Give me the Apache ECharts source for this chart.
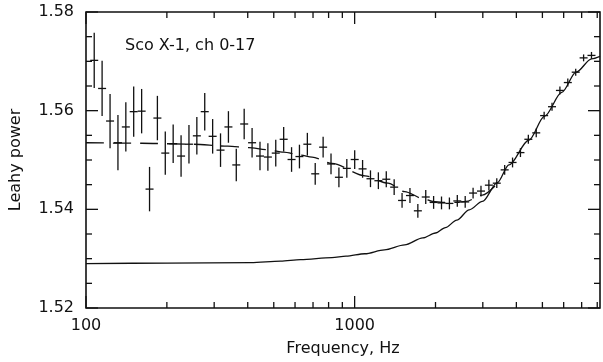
<!DOCTYPE html>
<html><head><meta charset="utf-8">
<script src="https://cdn.jsdelivr.net/npm/echarts@6/dist/echarts.min.js"></script>
<style>html,body{margin:0;padding:0;background:#fff}#c{width:603px;height:362px}</style>
</head><body><div id="c"></div>
<script>
// Data points (frequency in Hz, Leahy power, 1-sigma error)
const freq = [107.3,114.8,122.9,131.5,140.7,150.5,161.1,172.4,184.4,197.3,
  211.1,225.9,241.7,258.6,276.7,296.1,316.8,339.0,362.6,388.0,
  415.2,444.3,475.4,508.6,544.3,582.4,623.1,666.8,713.3,763.3,
  816.7,873.9,935.2,1000.5,1070.5,1145.5,1225.7,1311.6,1403.3,1501.6,
  1606.7,1719.2,1839.6,1967.9,2105.7,2253.2,2411.0,2579.8,2760.2,2953.6,
  3160.4,3381.7,3618.5,3871.3,4142.4,4432.5,4742.8,5074.9,5429.6,5809.9,
  6216.7,6652.0,7117.8,7615.6];
const power = [1.5702,1.5645,1.5579,1.5535,1.5567,1.5598,1.5599,1.5441,1.5585,1.5514,
  1.5533,1.5508,1.5532,1.5549,1.5598,1.5548,1.5520,1.5567,1.5490,1.5573,
  1.5535,1.5508,1.5506,1.5514,1.5542,1.5501,1.5507,1.5532,1.5472,1.5526,
  1.5492,1.5465,1.5483,1.5501,1.5482,1.5462,1.5458,1.5461,1.5445,1.5418,
  1.5428,1.5397,1.5425,1.5414,1.5413,1.5412,1.5417,1.5415,1.5433,1.5437,
  1.5449,1.5453,1.5480,1.5495,1.5515,1.5542,1.5555,1.5590,1.5608,1.5641,
  1.5657,1.5678,1.5707,1.5712];
const powerErr = [0.0056,0.0056,0.0055,0.0056,0.0050,0.0051,0.0045,0.0045,0.0045,0.0044,
  0.0039,0.0042,0.0039,0.0038,0.0038,0.0035,0.0034,0.0032,0.0033,0.0031,
  0.0030,0.0029,0.0028,0.0027,0.0025,0.0025,0.0024,0.0023,0.0022,0.0021,
  0.0021,0.0020,0.0019,0.0019,0.0018,0.0017,0.0017,0.0016,0.0016,0.0015,
  0.0015,0.0014,0.0014,0.0013,0.0013,0.0012,0.0012,0.0012,0.0011,0.0011,
  0.0011,0.0010,0.0010,0.0010,0.0009,0.0009,0.0009,0.0008,0.0008,0.0008,
  0.0008,0.0007,0.0007,0.0007];
// Solid model curve
const solidFreq = [100,201,411,530,629,823,929,1091,1291,1535,1795,2000,2177,2400,2670,2990,3397,3753,4448,5097,5904,6676,7624,8192];
const solidPower = [1.5290,1.5291,1.5292,1.5295,1.5298,1.5302,1.5305,1.5310,1.5318,1.5328,1.5342,1.5352,1.5363,1.5378,1.5399,1.5416,1.5454,1.5490,1.5540,1.5589,1.5637,1.5678,1.5705,1.5710];
// Dashed model curve
const dashFreq = [100,161,246,337,404,470,544,628,694,823,1093,1332,1536,1795,1954,2127,2400,2596,2990,3446];
const dashPower = [1.5535,1.5534,1.5532,1.5528,1.5525,1.5521,1.5516,1.5510,1.5506,1.5493,1.5468,1.5453,1.5436,1.5422,1.5416,1.5414,1.5414,1.5416,1.5429,1.5456];
// Axis ticks and labels
const xMajorTicks = [100, 1000];
const xMinorTicks = [200,300,400,500,600,700,800,900,2000,3000,4000,5000,6000,7000,8000];
const xTickLabels = ['100', '1000'];
const yMajorTicks = [1.52, 1.54, 1.56, 1.58];
const yMinorTicks = [1.525,1.53,1.535,1.545,1.55,1.555,1.565,1.57,1.575];
const titleText = 'Sco X-1, ch 0-17';
const xName = 'Frequency, Hz';
const yName = 'Leahy power';

const FONT = 'DejaVu Sans';
const INK = '#111';
const chart = echarts.init(document.getElementById('c'), null, {renderer: 'canvas'});

const pointData = freq.map((f, i) => [f, power[i], powerErr[i]]);

function renderCross(params, api) {
  const f = api.value(0), v = api.value(1), e = api.value(2);
  const c = api.coord([f, v]);
  const t = api.coord([f, v + e]);
  const b = api.coord([f, v - e]);
  const st = {stroke: INK, lineWidth: 1.3};
  return {type: 'group', children: [
    {type: 'line', shape: {x1: c[0], y1: t[1], x2: c[0], y2: b[1]}, style: st},
    {type: 'line', shape: {x1: c[0] - 4, y1: c[1], x2: c[0] + 4, y2: c[1]}, style: st}
  ]};
}

function renderTicks(params, api) {
  const cs = params.coordSys;
  const top = cs.y, bottom = cs.y + cs.height, left = cs.x, right = cs.x + cs.width;
  const st = {stroke: INK, lineWidth: 1.3};
  const ch = [];
  const yRef = yMajorTicks[0];
  const xRef = xMajorTicks[0];
  function xt(val, len) {
    const p = api.coord([val, yRef]);
    ch.push({type: 'line', shape: {x1: p[0], y1: bottom, x2: p[0], y2: bottom - len}, style: st});
    ch.push({type: 'line', shape: {x1: p[0], y1: top, x2: p[0], y2: top + len}, style: st});
  }
  function yt(val, len) {
    const p = api.coord([xRef, val]);
    ch.push({type: 'line', shape: {x1: left, y1: p[1], x2: left + len, y2: p[1]}, style: st});
    ch.push({type: 'line', shape: {x1: right, y1: p[1], x2: right - len, y2: p[1]}, style: st});
  }
  xMajorTicks.forEach(v => xt(v, 12));
  xMinorTicks.forEach(v => xt(v, 6));
  yMajorTicks.forEach(v => yt(v, 12));
  yMinorTicks.forEach(v => yt(v, 6));
  return {type: 'group', children: ch};
}

const option = {
  animation: false,
  backgroundColor: '#fff',
  grid: {left: 84, right: 2, top: 12, bottom: 51, show: true, borderColor: INK, borderWidth: 1.6, backgroundColor: 'transparent'},
  xAxis: {
    type: 'log', logBase: 10, min: 100, max: 8192,
    name: xName, nameLocation: 'middle', nameGap: 33,
    nameTextStyle: {fontFamily: FONT, fontSize: 16, color: INK},
    axisLine: {show: false}, axisTick: {show: false}, splitLine: {show: false},
    axisLabel: {
      fontFamily: FONT, fontSize: 16, color: INK, margin: 10, showMinLabel: true, showMaxLabel: true,
      formatter: function (v) {
        const s = String(Math.round(v));
        return xTickLabels.indexOf(s) >= 0 ? s : '';
      }
    }
  },
  yAxis: {
    type: 'value', min: 1.52, max: 1.58, interval: 0.02,
    name: yName, nameLocation: 'middle', nameGap: 62, nameRotate: 90,
    nameTextStyle: {fontFamily: FONT, fontSize: 16, color: INK},
    axisLine: {show: false}, axisTick: {show: false}, splitLine: {show: false},
    axisLabel: {fontFamily: FONT, fontSize: 16, color: INK, margin: 12, formatter: v => v.toFixed(2)}
  },
  graphic: [{
    type: 'text', left: 125, top: 38,
    style: {text: titleText, fontFamily: FONT, fontSize: 16, fill: INK}
  }],
  series: [
    {type: 'line', data: solidFreq.map((f, i) => [f, solidPower[i]]), smooth: 0.3, smoothMonotone: 'x',
     symbol: 'none', lineStyle: {color: INK, width: 1.3}, z: 3},
    {type: 'line', data: dashFreq.map((f, i) => [f, dashPower[i]]), smooth: 0.3, smoothMonotone: 'x',
     symbol: 'none', lineStyle: {color: INK, width: 1.3, type: [18, 9]}, z: 3},
    {type: 'custom', data: pointData, renderItem: renderCross, z: 4, clip: true},
    {type: 'custom', data: [[100, 1.52]], renderItem: renderTicks, z: 5, silent: true}
  ]
};
chart.setOption(option);
</script>
</body></html>
